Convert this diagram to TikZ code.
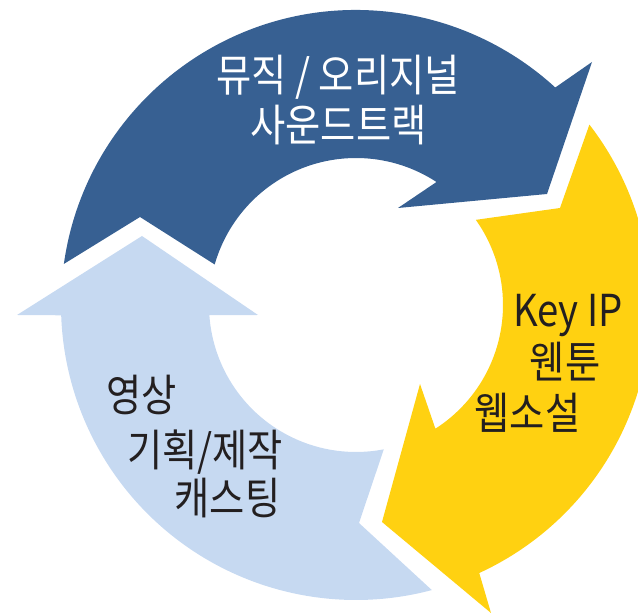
\documentclass[tikz,border=0pt]{standalone}
\usepackage{fontspec}
\newfontfamily\kr{Noto Sans CJK KR}[FakeStretch=0.87]
\usetikzlibrary{calc}
\definecolor{darkb}{HTML}{376092}
\definecolor{lightb}{HTML}{C6D9F1}
\definecolor{yel}{HTML}{FFD111}
\definecolor{txt}{HTML}{231F20}
\tikzset{
  lbl/.style={anchor=base, inner sep=0pt, font=\kr\fontsize{44}{50}\selectfont},
  lblw/.style={lbl, text=white},
  lbld/.style={lbl, text=txt},
}
\begin{document}
\begin{tikzpicture}[x=1pt,y=1pt]
\useasboundingbox (0,0) rectangle (638,613);
\clip (0,0) rectangle (638,613);
\coordinate (C) at (356,308);
% dark blue arrow (top)
\fill[darkb] ($(C)+(172:295)$) arc[start angle=172,end angle=47.5,radius=295pt]
  -- (592,551) -- (547,419) -- (398,405)
  -- ($(C)+(56.8:147)$) arc[start angle=56.8,end angle=164,radius=147pt]
  -- (140,396) -- cycle;
% yellow arrow (right)
\fill[yel] ($(C)+(37.7:295)$) arc[start angle=37.7,end angle=-65.3,radius=295pt]
  -- (491,0) -- (382,91) -- (420,229)
  -- ($(C)+(-57.3:147)$) arc[start angle=-57.3,end angle=35.4,radius=147pt]
  -- (560,405) -- cycle;
% light blue arrow (left)
\fill[lightb] (142,377) -- (258,298)
  -- ($(C)+(184:147)$) arc[start angle=184,end angle=280.9,radius=147pt]
  -- (359,90)
  -- ($(C)+(284.9:295)$) arc[start angle=284.9,end angle=182,radius=295pt]
  -- (17,298) -- cycle;
% texts
\node[lblw] (t1) at (338,521) {뮤직 / 오리지널};
\node[lblw] (t2) at (338.5,471) {사운드트랙};
\node[lbld] (y1) at (568,286) {Key IP};
\node[lbld] (y2) at (565,234) {웬툰};
\node[lbld] (y3) at (527.5,183) {웹소설};
\node[lbld] (l1) at (141.5,201) {영상};
\node[lbld] (l2) at (205,146) {기획/제작};
\node[lbld] (l3) at (227.5,98) {캐스팅};
\end{tikzpicture}
\end{document}
